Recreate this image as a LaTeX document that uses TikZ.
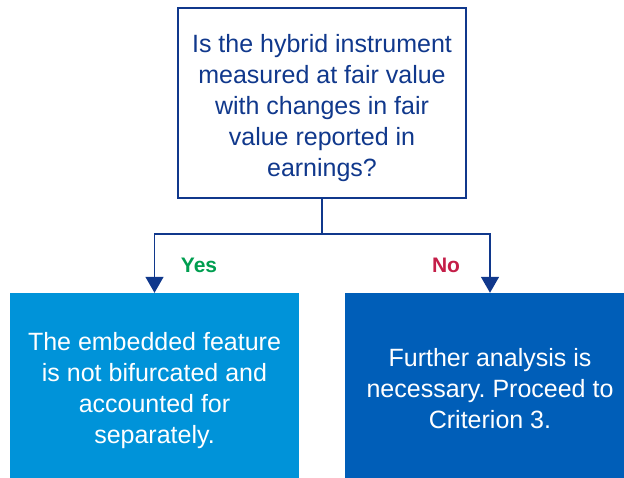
\documentclass[tikz,border=0pt]{standalone}
\usepackage{fontspec}
\setmainfont{Liberation Sans}
\frenchspacing
\usetikzlibrary{arrows.meta, positioning}
\definecolor{navyline}{RGB}{16,56,140}
\definecolor{yesfill}{RGB}{0,147,217}
\definecolor{nofill}{RGB}{0,94,184}
\definecolor{yesgreen}{RGB}{0,158,80}
\definecolor{nored}{RGB}{196,30,72}
\newcommand{\toppad}[1]{\rule{0pt}{#1}}
\tikzset{
    question/.style={rectangle, draw=navyline, line width=1.5pt, fill=white, text=navyline, align=center, minimum width=288pt, minimum height=190pt, inner sep=0pt, font=\fontsize{25}{30.8}\selectfont},
    outcome/.style={rectangle, text=white, align=center, minimum height=185pt, inner sep=0pt, font=\fontsize{25}{30.8}\selectfont},
    answer/.style={font=\fontsize{21}{24}\selectfont\bfseries},
    arrow/.style={draw=navyline, line width=1.5pt, -{Triangle[width=18pt, length=16pt]}}
}
\begin{document}
\begin{tikzpicture}[x=1pt, y=1pt]
    \useasboundingbox (0,0) rectangle (624,-478);

    % Question
    \node[question] (ask) at (322,-103) {\toppad{28pt}Is the hybrid instrument\\measured at fair value\\with changes in fair\\value reported in\\earnings?};

    % Outcomes
    \node[outcome, fill=yesfill, minimum width=289pt] (notbif) at (154.5,-385.5) {\toppad{28pt}The embedded feature\\is not bifurcated and\\accounted for\\separately.};
    \node[outcome, fill=nofill, minimum width=279pt] (further) at (484.5,-385.5) {\hspace{11pt}\toppad{24pt}Further analysis is\\\hspace{11pt}necessary. Proceed to\\\hspace{11pt}Criterion 3.};

    % Connections
    \coordinate (split) at (322,-234);
    \coordinate (furthertop) at ([xshift=5.5pt]further.north);
    \draw[draw=navyline, line width=1.5pt] (ask.south) -- (split);
    \draw[arrow] (split) -| (notbif.north);
    \draw[arrow] (split) -| (furthertop);

    % Labels
    \node[answer, text=yesgreen] (yes) at (199,-265) {Yes};
    \node[answer, text=nored] (no) at (446,-265) {No};
\end{tikzpicture}
\end{document}
